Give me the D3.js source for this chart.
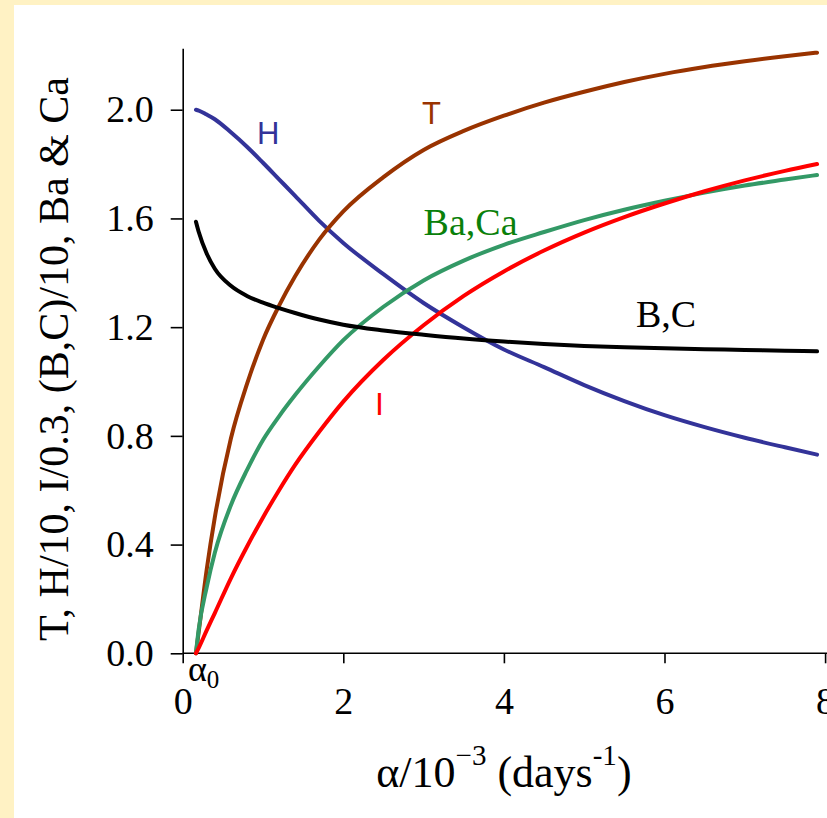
<!DOCTYPE html>
<html>
<head>
<meta charset="utf-8">
<script src="https://cdn.jsdelivr.net/npm/d3@7"></script>
<style>
  body { margin: 0; background: #fff2c4; }
  svg { display: block; }
</style>
</head>
<body>
<div id="chart"></div>
<script>
// alpha values (units of 1e-3 per day), first point is alpha0
var alpha = [0.165, 0.2, 0.3, 0.4, 0.6, 0.8, 1.0, 1.2, 1.4, 1.7, 2.0, 2.5, 3.0, 3.5, 4.0, 4.5, 5.0, 5.5, 6.0, 6.5, 7.0, 7.5, 7.9];

var tValues  = [0, 0.08, 0.31, 0.50, 0.79, 0.99, 1.153, 1.279, 1.387, 1.522, 1.626, 1.752, 1.852, 1.922, 1.978, 2.026, 2.066, 2.102, 2.132, 2.157, 2.178, 2.197, 2.21];
var hValues  = [2.0, 1.997, 1.982, 1.965, 1.917, 1.864, 1.805, 1.744, 1.683, 1.591, 1.51, 1.395, 1.289, 1.199, 1.118, 1.053, 0.987, 0.928, 0.876, 0.832, 0.793, 0.758, 0.731];
var baValues = [0, 0.09, 0.245, 0.37, 0.545, 0.674, 0.785, 0.872, 0.95, 1.056, 1.152, 1.275, 1.372, 1.445, 1.503, 1.55, 1.594, 1.632, 1.665, 1.695, 1.721, 1.743, 1.76];
var iValues  = [0, 0.02, 0.085, 0.148, 0.276, 0.392, 0.50, 0.60, 0.693, 0.815, 0.926, 1.08, 1.207, 1.315, 1.405, 1.482, 1.548, 1.605, 1.655, 1.70, 1.74, 1.775, 1.80];
var bcValues = [1.588, 1.55, 1.47, 1.415, 1.352, 1.315, 1.29, 1.27, 1.252, 1.228, 1.209, 1.188, 1.172, 1.158, 1.147, 1.138, 1.131, 1.126, 1.122, 1.119, 1.116, 1.113, 1.111];

var xTicks = [0, 2, 4, 6, 8];
var yTicks = [0, 0.4, 0.8, 1.2, 1.6, 2.0];

var series = [
    {name: "H",     values: hValues,  color: "#333399"},
    {name: "T",     values: tValues,  color: "#993300"},
    {name: "Ba,Ca", values: baValues, color: "#339966"},
    {name: "I",     values: iValues,  color: "#ff0000"},
    {name: "B,C",   values: bcValues, color: "#000000"}
];

// curve labels, placed in data coordinates
var labels = [
    {text: "H",     x: 0.925, y: 1.874, color: "#333399", serif: false, size: 31},
    {text: "T",     x: 2.98,  y: 1.946, color: "#993300", serif: false, size: 31},
    {text: "Ba,Ca", x: 3.0,   y: 1.539, color: "#0a800a", serif: true,  size: 38},
    {text: "B,C",   x: 5.645, y: 1.2,   color: "#000000", serif: true,  size: 38},
    {text: "I",     x: 2.395, y: 0.876, color: "#ff0000", serif: false, size: 32}
];

var serif = "'Liberation Serif', 'Times New Roman', serif";
var sans = "'Liberation Sans', Arial, sans-serif";

var W = 827, H = 818;

var svg = d3.select("#chart").append("svg")
    .attr("width", W)
    .attr("height", H);

// white panel inside the yellow frame
svg.append("rect")
    .attr("x", 14).attr("y", 5)
    .attr("width", W - 14).attr("height", H - 5)
    .attr("fill", "#fff");

var x = d3.scaleLinear()
    .domain([0, 8])
    .range([182.7, 825.1]);

var y = d3.scaleLinear()
    .domain([0, 2.226])
    .range([653.3, 48.3]);

var xAxis = svg.append("g")
    .attr("transform", "translate(0," + y(0) + ")")
    .call(d3.axisBottom(x).tickValues(xTicks).tickSize(10).tickPadding(24).tickSizeOuter(0));

var yAxis = svg.append("g")
    .attr("transform", "translate(" + x(0) + ",0)")
    .call(d3.axisLeft(y).tickValues(yTicks).tickSize(12).tickPadding(17).tickSizeOuter(0)
        .tickFormat(d3.format(".1f")));

// stretch x axis line to the edge
xAxis.select(".domain").attr("d", "M" + x(0) + ",0H" + W);

[xAxis, yAxis].forEach(function(g) {
    g.selectAll("path, line").attr("stroke", "#000").attr("stroke-width", 1.6);
    g.selectAll("text")
        .attr("fill", "#000")
        .style("font-family", serif)
        .style("font-size", "38px");
});

var line = d3.line()
    .x(function(d, i) { return x(alpha[i]); })
    .y(function(d) { return y(d); })
    .curve(d3.curveMonotoneX);

svg.selectAll(".curve")
    .data(series)
    .enter().append("path")
    .attr("class", "curve")
    .attr("d", function(d) { return line(d.values); })
    .attr("fill", "none")
    .attr("stroke", function(d) { return d.color; })
    .attr("stroke-width", 4)
    .attr("stroke-linecap", "round")
    .attr("stroke-linejoin", "round");

svg.selectAll(".lbl")
    .data(labels)
    .enter().append("text")
    .attr("class", "lbl")
    .attr("x", function(d) { return x(d.x); })
    .attr("y", function(d) { return y(d.y); })
    .attr("fill", function(d) { return d.color; })
    .style("font-family", function(d) { return d.serif ? serif : sans; })
    .style("font-size", function(d) { return d.size + "px"; })
    .text(function(d) { return d.text; });

// alpha0 marker under the axis
var a0 = svg.append("text")
    .attr("x", x(alpha[0]) - 8)
    .attr("y", 681)
    .style("font-family", serif)
    .style("font-size", "36px");
a0.append("tspan").text("α");
a0.append("tspan").attr("dy", 7).style("font-size", "25px").text("0");

// x axis title
var xt = svg.append("text")
    .attr("x", x(4))
    .attr("y", 787)
    .attr("text-anchor", "middle")
    .style("font-family", serif)
    .style("font-size", "44px");
xt.append("tspan").text("α/10");
xt.append("tspan").attr("dy", -22).style("font-size", "29px").text("−3");
xt.append("tspan").attr("dy", 22).text(" (days");
xt.append("tspan").attr("dy", -22).style("font-size", "29px").text("-1");
xt.append("tspan").attr("dy", 22).text(")");

// y axis title
svg.append("text")
    .attr("transform", "rotate(-90)")
    .attr("x", -359)
    .attr("y", 68)
    .attr("text-anchor", "middle")
    .style("font-family", serif)
    .style("font-size", "42px")
    .text("T, H/10, I/0.3, (B,C)/10, Ba & Ca");
</script>
</body>
</html>
